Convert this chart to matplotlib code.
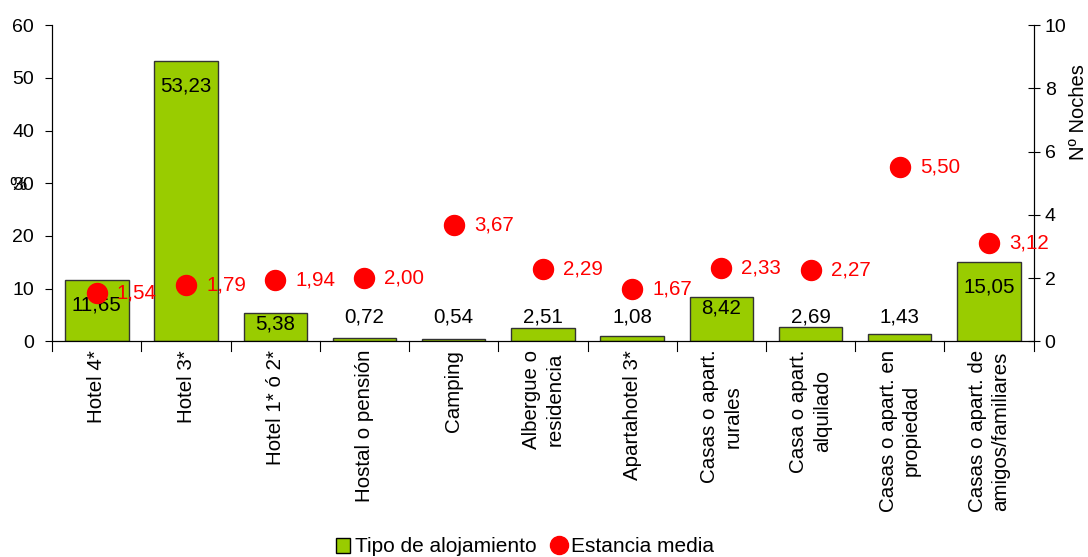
import matplotlib
matplotlib.use("Agg")
import numpy as np
from matplotlib import pyplot as plt
from matplotlib.lines import Line2D
from matplotlib.patches import Patch

plt.rcParams['font.family'] = ['Liberation Sans', 'DejaVu Sans']

categorias = ["Hotel 4*", "Hotel 3*", "Hotel 1* ó 2*", "Hostal o pensión", "Camping",
              "Albergue o\nresidencia", "Apartahotel 3*", "Casas o apart.\nrurales",
              "Casa o apart.\nalquilado", "Casas o apart. en\npropiedad",
              "Casas o apart. de\namigos/familiares"]
tipo_alojamiento = [11.65, 53.23, 5.38, 0.72, 0.54, 2.51, 1.08, 8.42, 2.69, 1.43, 15.05]
estancia_media = [1.54, 1.79, 1.94, 2.00, 3.67, 2.29, 1.67, 2.33, 2.27, 5.50, 3.12]

verde = "#99CC00"
rojo = "#FF0000"


def fmt(v):
    return f"{v:.2f}".replace(".", ",")


fig = plt.figure(figsize=(10.88, 5.57), dpi=100)
ax = fig.add_axes([0.048, 0.387, 0.902, 0.568])
x = np.arange(len(categorias))

ax.bar(x, tipo_alojamiento, width=0.71, color=verde, edgecolor="#333333", linewidth=1, zorder=2)
ax.set_xlim(-0.5, len(categorias) - 0.5)
ax.set_ylim(0, 60)
ax.set_yticks(range(0, 61, 10))
ax.tick_params(axis="y", labelsize=14, direction="out", length=5, pad=8)
ax.spines["top"].set_visible(False)
ax.set_xticks(x)
ax.set_xticklabels(categorias, rotation=90, fontsize=14.8, ha="center", va="top",
                   multialignment="center", linespacing=1.3)
ax.tick_params(axis="x", length=0, pad=6)
for b in np.arange(-0.5, len(categorias), 1.0):
    ax.plot([b, b], [0, -0.03], transform=ax.get_xaxis_transform(), color="black",
            lw=0.8, clip_on=False)
# "%" label sits on top of the 30 tick label, as in the original
fig.text(18 / 1088, 1 - 186 / 557, "%", ha="center", va="center", fontsize=14)

for xi, v in zip(x, tipo_alojamiento):
    if v >= 10:
        ax.annotate(fmt(v), (xi, v), xytext=(0, -18), textcoords="offset points",
                    ha="center", va="center", fontsize=14.8, zorder=4)
    elif v >= 5:
        ax.text(xi, v - 2, fmt(v), ha="center", va="center", fontsize=14.8, zorder=4)
    else:
        ax.text(xi, 4.7, fmt(v), ha="center", va="center", fontsize=14.8, zorder=4)

ax2 = ax.twinx()
ax2.plot(x, estancia_media, linestyle="none", marker="o", markersize=14.4,
         color=rojo, zorder=5)
ax2.set_ylim(0, 10)
ax2.set_yticks(range(0, 11, 2))
ax2.tick_params(axis="y", labelsize=14, direction="inout", length=9)
ax2.spines["top"].set_visible(False)
fig.text(1078 / 1088, 1 - 112 / 557, "Nº Noches", rotation=90, ha="center", va="center",
         fontsize=14.5)
for xi, v in zip(x, estancia_media):
    ax2.annotate(fmt(v), (xi, v), xytext=(14.4, 0), textcoords="offset points",
                 ha="left", va="center", fontsize=14.8, color=rojo, zorder=6)

handles = [Patch(facecolor=verde, edgecolor="black", label="Tipo de alojamiento"),
           Line2D([], [], linestyle="none", marker="o", markersize=13, color=rojo,
                  label="Estancia media")]
fig.legend(handles=handles, loc="center", bbox_to_anchor=(525 / 1088, 1 - 547 / 557), ncol=2,
           frameon=False, fontsize=15, handlelength=0.7, handletextpad=0.25,
           columnspacing=0.7, borderpad=0.1)

fig.savefig("out.png", dpi=100)
